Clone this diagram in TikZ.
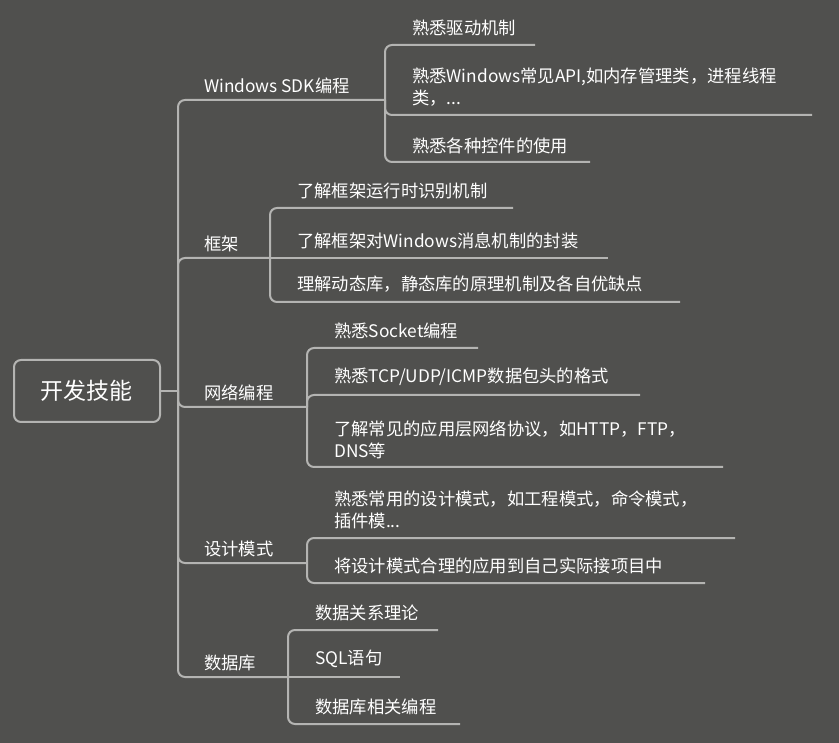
\documentclass[tikz,border=0pt]{standalone}
\usepackage{fontspec}
\setmainfont{Noto Sans CJK SC}
\definecolor{bgcol}{HTML}{50504E}
\definecolor{linecol}{HTML}{B4B4B2}
\begin{document}
\begin{tikzpicture}[x=1pt,y=-1pt,
    branch/.style={draw=linecol, line width=2pt, rounded corners=7},
    topic/.style={text=white, font=\fontsize{17.3}{21}\selectfont, anchor=south west, inner sep=3pt, align=left},
    leaf/.style={text=white, font=\fontsize{17.3}{22}\selectfont, anchor=south west, inner sep=3pt, align=left}]
    % Background
    \fill[bgcol] (0,0) rectangle (839,743);
    \useasboundingbox (0,0) rectangle (839,743);

    % Root
    \node[draw=linecol, line width=2pt, rounded corners=7, minimum width=146, minimum height=62,
          text=white, font=\fontsize{23}{27}\selectfont] (root) at (87,391) {开发技能};

    % Main trunk
    \coordinate (hub) at (178,391);
    \draw[branch] (root.east) -- (hub);
    \draw[branch] (hub) |- (385,100);
    \draw[branch] (hub) |- (270,258);
    \draw[branch] (hub) |- (307,407);
    \draw[branch] (hub) |- (307,563);
    \draw[branch] (hub) |- (288,677);

    % Topics
    \node[topic] (sdk) at (201,97) {Windows SDK编程};
    \node[topic] (frame) at (201,255) {框架};
    \node[topic] (net) at (201,404) {网络编程};
    \node[topic] (design) at (201,560) {设计模式};
    \node[topic] (db) at (201,674) {数据库};

    % -- Windows SDK
    \draw[branch] (385,100) |- (535,45);
    \draw[branch] (385,100) |- (812,115);
    \draw[branch] (385,100) |- (590,162);
    \node[leaf] (sdk1) at (409,39) {熟悉驱动机制};
    \node[leaf] (sdk2) at (409,110) {熟悉Windows常见API,如内存管理类，进程线程\\类，...};
    \node[leaf] (sdk3) at (409,157) {熟悉各种控件的使用};

    % -- Framework
    \draw[branch] (270,258) |- (513,208);
    \draw[branch] (270,258) -- (608,258);
    \draw[branch] (270,258) |- (680,302);
    \node[leaf] (frame1) at (294,202) {了解框架运行时识别机制};
    \node[leaf] (frame2) at (294,252) {了解框架对Windows消息机制的封装};
    \node[leaf] (frame3) at (294,296) {理解动态库，静态库的原理机制及各自优缺点};

    % -- Network
    \draw[branch] (307,407) |- (478,348);
    \draw[branch] (307,407) |- (640,395);
    \draw[branch] (307,407) |- (723,467);
    \node[leaf] (net1) at (331,342) {熟悉Socket编程};
    \node[leaf] (net2) at (331,389) {熟悉TCP/UDP/ICMP数据包头的格式};
    \node[leaf] (net3) at (331,462) {了解常见的应用层网络协议，如HTTP，FTP，\\DNS等};

    % -- Design patterns
    \draw[branch] (307,563) |- (735,538);
    \draw[branch] (307,563) |- (705,583);
    \node[leaf] (design1) at (331,532) {熟悉常用的设计模式，如工程模式，命令模式，\\插件模...};
    \node[leaf] (design2) at (331,577) {将设计模式合理的应用到自己实际接项目中};

    % -- Database
    \draw[branch] (288,677) |- (438,630);
    \draw[branch] (288,677) -- (400,677);
    \draw[branch] (288,677) |- (460,724);
    \node[leaf] (db1) at (312,624) {数据关系理论};
    \node[leaf] (db2) at (312,671) {SQL语句};
    \node[leaf] (db3) at (312,718) {数据库相关编程};
\end{tikzpicture}
\end{document}
